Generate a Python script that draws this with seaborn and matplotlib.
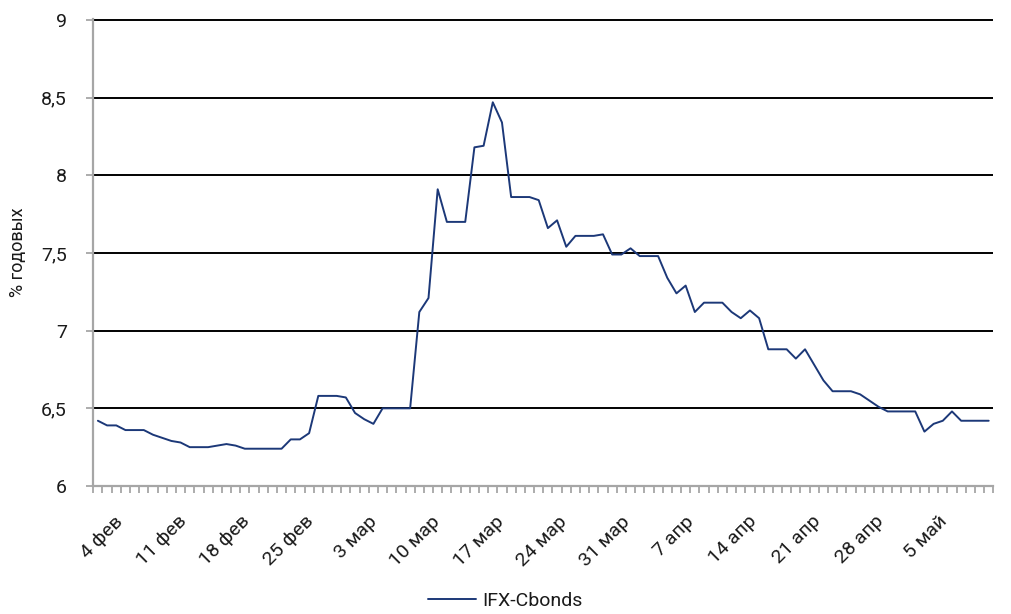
import matplotlib
matplotlib.use("Agg")
import matplotlib.pyplot as plt
import matplotlib.transforms as mtransforms
from matplotlib.ticker import FixedLocator, FuncFormatter
import seaborn as sns
import pandas as pd
import numpy as np

# ---- data ----
start_date = "2020-02-04"
values = [
    6.42, 6.39, 6.39, 6.36, 6.36, 6.36, 6.33, 6.31, 6.29, 6.28,
    6.25, 6.25, 6.25, 6.26, 6.27, 6.26, 6.24, 6.24, 6.24, 6.24,
    6.24, 6.30, 6.30, 6.34, 6.58, 6.58, 6.58, 6.57, 6.47, 6.43,
    6.40, 6.50, 6.50, 6.50, 6.50, 7.12, 7.21, 7.91, 7.70, 7.70,
    7.70, 8.18, 8.19, 8.47, 8.34, 7.86, 7.86, 7.86, 7.84, 7.66,
    7.71, 7.54, 7.61, 7.61, 7.61, 7.62, 7.49, 7.49, 7.53, 7.48,
    7.48, 7.48, 7.34, 7.24, 7.29, 7.12, 7.18, 7.18, 7.18, 7.12,
    7.08, 7.13, 7.08, 6.88, 6.88, 6.88, 6.82, 6.88, 6.78, 6.68,
    6.61, 6.61, 6.61, 6.59, 6.55, 6.51, 6.48, 6.48, 6.48, 6.48,
    6.35, 6.40, 6.42, 6.48, 6.42, 6.42, 6.42, 6.42,
]
series_name = "IFX-Cbonds"
y_label = "% годовых"
month_abbr = {2: "фев", 3: "мар", 4: "апр", 5: "май"}
label_every = 7
y_ticks = [6, 6.5, 7, 7.5, 8, 8.5, 9]

dates = pd.date_range(start_date, periods=len(values), freq="D")
df = pd.DataFrame({"day": np.arange(len(values)), "date": dates, "value": values})
tick_idx = list(range(0, len(values), label_every))
tick_labels = [f"{dates[i].day} {month_abbr[dates[i].month]}" for i in tick_idx]

# ---- style ----
sns.set_theme(style="white")
plt.rcParams["font.family"] = ["Roboto", "DejaVu Sans"]
text_color = "#1a1a1a"
axis_gray = "#a6a6a6"
line_color = "#1c3878"

fig = plt.figure(figsize=(10.11, 6.14), dpi=100)
ax = fig.add_axes([93.3 / 1011, 1 - 486 / 614, 900 / 1011, 467 / 614])

sns.lineplot(data=df, x="day", y="value", color=line_color, lw=1.4,
             label=series_name, ax=ax, zorder=3)

ax.set_xlim(-0.5, len(values) - 0.5)
ax.set_ylim(6, 9.006)

# y axis
ax.yaxis.set_major_locator(FixedLocator(y_ticks))
ax.yaxis.set_major_formatter(FuncFormatter(lambda v, p: f"{v:g}".replace(".", ",")))
ax.tick_params(axis="y", which="major", direction="out", length=5, width=1.3,
               color=axis_gray, labelsize=14, labelcolor=text_color, pad=14, left=True)
ax.set_axisbelow(True)
ax.yaxis.grid(True, color="black", lw=1.4)
ax.xaxis.grid(False)

# x axis: day ticks at category boundaries, labels weekly
ax.xaxis.set_minor_locator(FixedLocator(np.arange(-0.5, len(values), 1.0)))
ax.xaxis.set_major_locator(FixedLocator(tick_idx))
ax.set_xticklabels(tick_labels)
ax.tick_params(axis="x", which="major", length=0, labelsize=14,
               labelcolor=text_color, pad=19, bottom=True)
ax.tick_params(axis="x", which="minor", direction="out", length=5, width=1.3,
               color=axis_gray, bottom=True)
labs = ax.get_xticklabels()
n_labs = len(labs)
for j, lab in enumerate(labs):
    shift_px = 29 - 12 * j / max(n_labs - 1, 1)
    off = mtransforms.ScaledTranslation(shift_px / 100, 0, fig.dpi_scale_trans)
    lab.set_rotation(45)
    lab.set_ha("right")
    lab.set_va("top")
    lab.set_transform(lab.get_transform() + off)

for side in ["top", "right"]:
    ax.spines[side].set_visible(False)
for side in ["left", "bottom"]:
    ax.spines[side].set_color(axis_gray)
    ax.spines[side].set_linewidth(1.6)
    ax.spines[side].set_zorder(2.6)

ax.set_xlabel("")
ax.set_ylabel(y_label, fontsize=13, color=text_color)
ax.yaxis.set_label_coords((27 - 93.3) / 900, 0.5)

leg = ax.legend(loc="center", bbox_to_anchor=(0.4995, 1 - 601 / 614),
                bbox_transform=fig.transFigure, frameon=False, fontsize=14,
                handlelength=2.5, handletextpad=0.3)
for t in leg.get_texts():
    t.set_color(text_color)

fig.savefig("out.png", dpi=100)
